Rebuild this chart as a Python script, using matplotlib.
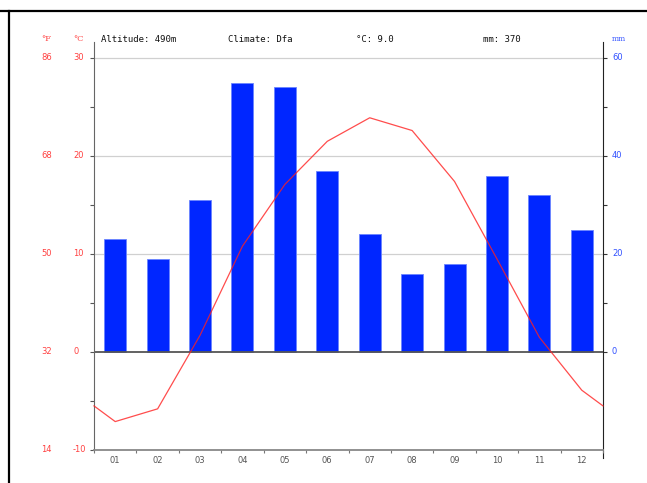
import numpy as np
import matplotlib
matplotlib.use("Agg")
import matplotlib.pyplot as plt
from matplotlib.lines import Line2D
from matplotlib import transforms

# Climate data
months = ["01", "02", "03", "04", "05", "06", "07", "08", "09", "10", "11", "12"]
precip_mm = [23, 19, 31, 55, 54, 37, 24, 16, 18, 36, 32, 25]
temp_c = [-7.1, -5.8, 1.7, 10.8, 17.1, 21.5, 23.9, 22.6, 17.4, 9.5, 1.5, -3.9]
edge_temp_c = -5.5  # value where the line meets the left/right edge
temp_ticks_c = [30, 20, 10, 0, -10]
temp_ticks_f = [86, 68, 50, 32, 14]
precip_ticks = [60, 40, 20, 0]
header = ["Altitude: 490m", "Climate: Dfa", "°C: 9.0", "mm: 370"]

RED = "#ff4040"
BLUE = "#3050ff"
W, H = 647, 483

fig = plt.figure(figsize=(W / 100, H / 100), dpi=100)
ax1 = fig.add_axes([94 / W, 1 - 450 / H, (603 - 94) / W, (450 - 42) / H])
ax2 = ax1.twinx()
ax1.set_zorder(ax2.get_zorder() + 1)
ax1.patch.set_visible(False)

top_c = 30 + 16 / 9.8
ax1.set_xlim(0, 12)
ax1.set_ylim(-10, top_c)
ax2.set_ylim(-20, 2 * top_c)

x = np.arange(12) + 0.5

# precipitation bars + grid
for g in [20, 40, 60]:
    ax2.axhline(g, color="#d0d0d0", lw=0.9, zorder=0)
ax2.bar(x, precip_mm, width=0.52, color="#0026ff", edgecolor="#6a84ff",
        linewidth=0.6, zorder=2)

# temperature line
xt = np.concatenate([[0], x, [12]])
yt = np.concatenate([[edge_temp_c], temp_c, [edge_temp_c]])
ax1.plot(xt, yt, color="#ff2020", lw=0.9, alpha=0.8, zorder=3, clip_on=False)
ax1.axhline(0, color="#555555", lw=1.3, zorder=2)

# spines
for a in (ax1, ax2):
    a.spines["top"].set_visible(False)
ax1.spines["left"].set_color("#666666")
ax1.spines["bottom"].set_color("#888888")
ax1.spines["bottom"].set_linewidth(1.3)
ax2.spines["right"].set_color("#222222")
ax2.spines["left"].set_visible(False)
ax2.spines["bottom"].set_visible(False)
ax1.spines["right"].set_visible(False)
ax2.spines["right"].set_bounds(-20 - 1.6, 2 * top_c)

# ticks
ax1.yaxis.set_ticks_position("left")
ax2.yaxis.set_ticks_position("right")
ax1.set_yticks(np.arange(-10, 31, 5))
ax1.set_yticklabels([])
ax1.tick_params(axis="y", length=3, width=0.8, color="#555555")
ax2.set_yticks(np.arange(0, 61, 10))
ax2.set_yticklabels([])
ax2.tick_params(axis="y", length=3, width=0.8, color="#333333")
ax1.set_xticks(np.arange(13))
ax1.set_xticklabels([])
ax1.set_xticks(x, minor=True)
ax1.set_xticklabels(months, minor=True, fontsize=6, color="#555555")
ax1.tick_params(axis="x", which="major", length=2.5, width=0.8, color="#777777")
ax1.tick_params(axis="x", which="minor", length=0, pad=4)

# left labels (°F / °C)
trans = transforms.blended_transform_factory(fig.transFigure, ax1.transData)
for c, f in zip(temp_ticks_c, temp_ticks_f):
    ax1.text(41 / W, c, str(f), transform=trans, color=RED, fontsize=6,
             va="center", ha="left")
    ax1.text(73 / W, c, str(c), transform=trans,
             color=RED, fontsize=6, va="center", ha="left")

trans2 = transforms.blended_transform_factory(fig.transFigure, ax2.transData)
for p in precip_ticks:
    ax2.text(612 / W, p, str(p), transform=trans2, color=BLUE, fontsize=6,
             va="center", ha="left")

# header row
hy = 1 - 39 / H
fig.text(41 / W, hy, "°F", color=RED, fontsize=6, family="DejaVu Serif", va="center")
fig.text(73 / W, hy, "°C", color=RED, fontsize=6, family="DejaVu Serif", va="center")
fig.text(612 / W, hy, "mm", color=BLUE, fontsize=5.5, family="DejaVu Serif", va="center")
for txt, px in zip(header, [101, 228, 356, 483]):
    fig.text(px / W, hy, txt, fontsize=6.5, family="DejaVu Sans Mono",
             color="#111111", va="center")

# frame lines
fig.add_artist(Line2D([0, 1], [1 - 11 / H, 1 - 11 / H], color="black", lw=1.6,
                      transform=fig.transFigure))
fig.add_artist(Line2D([9 / W, 9 / W], [0, 1 - 11 / H], color="black", lw=1.6,
                      transform=fig.transFigure))

fig.savefig("out.png", dpi=100)
